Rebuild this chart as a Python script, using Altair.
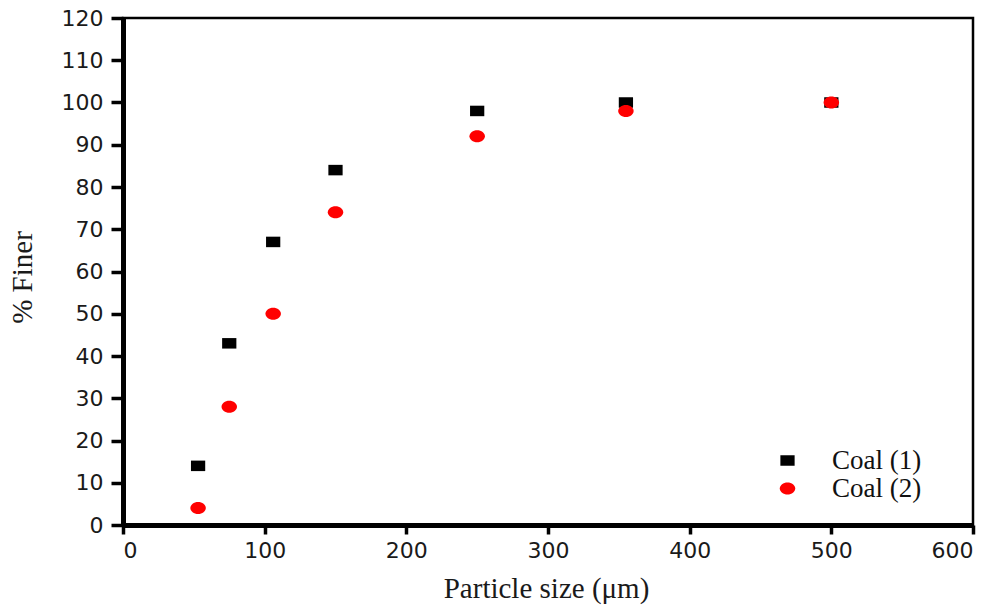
import altair as alt
import pandas as pd

# Sieve sizes (µm) and cumulative percent passing for each coal sample
sizes = [53, 75, 106, 150, 250, 355, 500]
coal1 = [14, 43, 67, 84, 98, 100, 100]
coal2 = [4, 28, 50, 74, 92, 98, 100]
series = ["Coal (1)", "Coal (2)"]
x_ticks = [0, 100, 200, 300, 400, 500, 600]
y_ticks = list(range(0, 121, 10))

df = pd.DataFrame(
    {
        "size": sizes * 2,
        "finer": coal1 + coal2,
        "sample": [series[0]] * len(sizes) + [series[1]] * len(sizes),
    }
)

# wide rectangle and flattened ellipse markers
rect_path = "M-0.95,-0.7L0.95,-0.7L0.95,0.7L-0.95,0.7Z"
ellipse_path = "M-1.03,0A1.03,0.8,0,1,1,1.03,0A1.03,0.8,0,1,1,-1.03,0Z"

legend_opts = dict(
    title=None,
    orient="none",
    legendX=651,
    legendY=429,
    padding=0,
    labelOffset=31,
    rowPadding=0,
    symbolSize=225,
    symbolStrokeWidth=0,
    labelFont="Liberation Serif",
    labelFontSize=27,
    labelColor="#111111",
)

points = (
    alt.Chart(df)
    .mark_point(filled=True, opacity=1, size=225, strokeWidth=0)
    .encode(
        x=alt.X(
            "size:Q",
            scale=alt.Scale(domain=[0, 600], nice=False, zero=False),
            axis=alt.Axis(
                values=x_ticks,
                title="Particle size (μm)",
                tickSize=9,
                tickWidth=3.5,
                labelPadding=6,
                titleX=423,
                titleY=72,
                titleBaseline="alphabetic",
                titleAlign="center",
            ),
        ),
        y=alt.Y(
            "finer:Q",
            scale=alt.Scale(domain=[0, 120], nice=False),
            axis=alt.Axis(
                values=y_ticks,
                title="% Finer",
                tickSize=12,
                tickWidth=3.5,
                labelPadding=8,
                titleX=-101,
                titleY=259,
                titleAngle=-90,
                titleBaseline="middle",
                titleAlign="center",
            ),
        ),
        color=alt.Color(
            "sample:N",
            scale=alt.Scale(domain=series, range=["#000000", "#ff0000"]),
            legend=alt.Legend(**legend_opts),
        ),
        shape=alt.Shape(
            "sample:N",
            scale=alt.Scale(domain=series, range=[rect_path, ellipse_path]),
            legend=alt.Legend(**legend_opts),
        ),
    )
)

chart = (
    points.properties(
        width=850,
        height=507,
        autosize=alt.AutoSizeParams(type="none"),
        padding={"left": 123, "top": 18, "right": 27, "bottom": 81},
        background="white",
    )
    .configure_view(stroke="black", strokeWidth=2.5)
    .configure_axis(
        grid=False,
        domainColor="black",
        domainWidth=5,
        tickColor="black",
        labelFont="DejaVu Sans",
        labelFontSize=22,
        labelColor="#1a1a1a",
        titleFont="Liberation Serif",
        titleFontSize=29,
        titleFontWeight="normal",
        titleColor="#1a1a1a",
    )
)

chart.save("out.html", embed_options={"renderer": "svg", "actions": False})
